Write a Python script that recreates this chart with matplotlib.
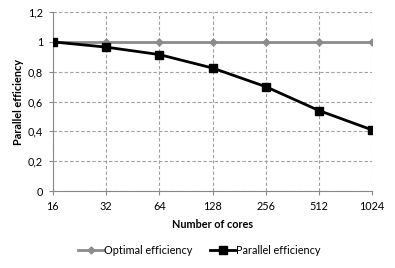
import matplotlib
matplotlib.use("Agg")
import matplotlib.pyplot as plt

plt.rcParams['font.family'] = ['Lato', 'DejaVu Sans']

cores = ["16", "32", "64", "128", "256", "512", "1024"]
optimal = [1, 1, 1, 1, 1, 1, 1]
parallel = [1.0, 0.965, 0.915, 0.825, 0.70, 0.54, 0.41]
yticks = [0, 0.2, 0.4, 0.6, 0.8, 1.0, 1.2]
ylabels = ["0", "0,2", "0,4", "0,6", "0,8", "1", "1,2"]

fig = plt.figure(figsize=(3.95, 2.68), dpi=100)
ax = fig.add_axes([0.134, 0.287, 0.808, 0.668])
x = list(range(len(cores)))
ax.plot(x, optimal, color="#8c8c8c", lw=2, marker="D", ms=3.5, label="Optimal efficiency", zorder=3)
ax.plot(x, parallel, color="black", lw=2, marker="s", ms=6, label="Parallel efficiency", zorder=4)
ax.set_xlim(0, len(cores) - 1)
ax.set_ylim(0, 1.2)
ax.set_xticks(x)
ax.set_xticklabels(cores)
ax.set_yticks(yticks)
ax.set_yticklabels(ylabels)
ax.grid(True, color="#a0a0a0", ls=(0, (3, 2)), lw=0.8)
for s in ["top", "right"]:
    ax.spines[s].set_visible(False)
for s in ["left", "bottom"]:
    ax.spines[s].set_color("#888888")
ax.tick_params(axis="both", labelsize=7.8, colors="#888888", length=3, labelcolor="black", pad=4)
ax.set_xlabel("Number of cores", fontsize=7.8, fontweight="bold", labelpad=5)
ax.set_ylabel("Parallel efficiency", fontsize=7.8, fontweight="bold", labelpad=3)
for lbl in ax.get_xticklabels():
    lbl.set_clip_on(False)
fig.legend(loc="center", bbox_to_anchor=(0.505, 0.065), ncol=2, frameon=False, fontsize=7.8,
           handlelength=2.3, columnspacing=1.6, handletextpad=0.1)
fig.savefig("out.png", dpi=100)
